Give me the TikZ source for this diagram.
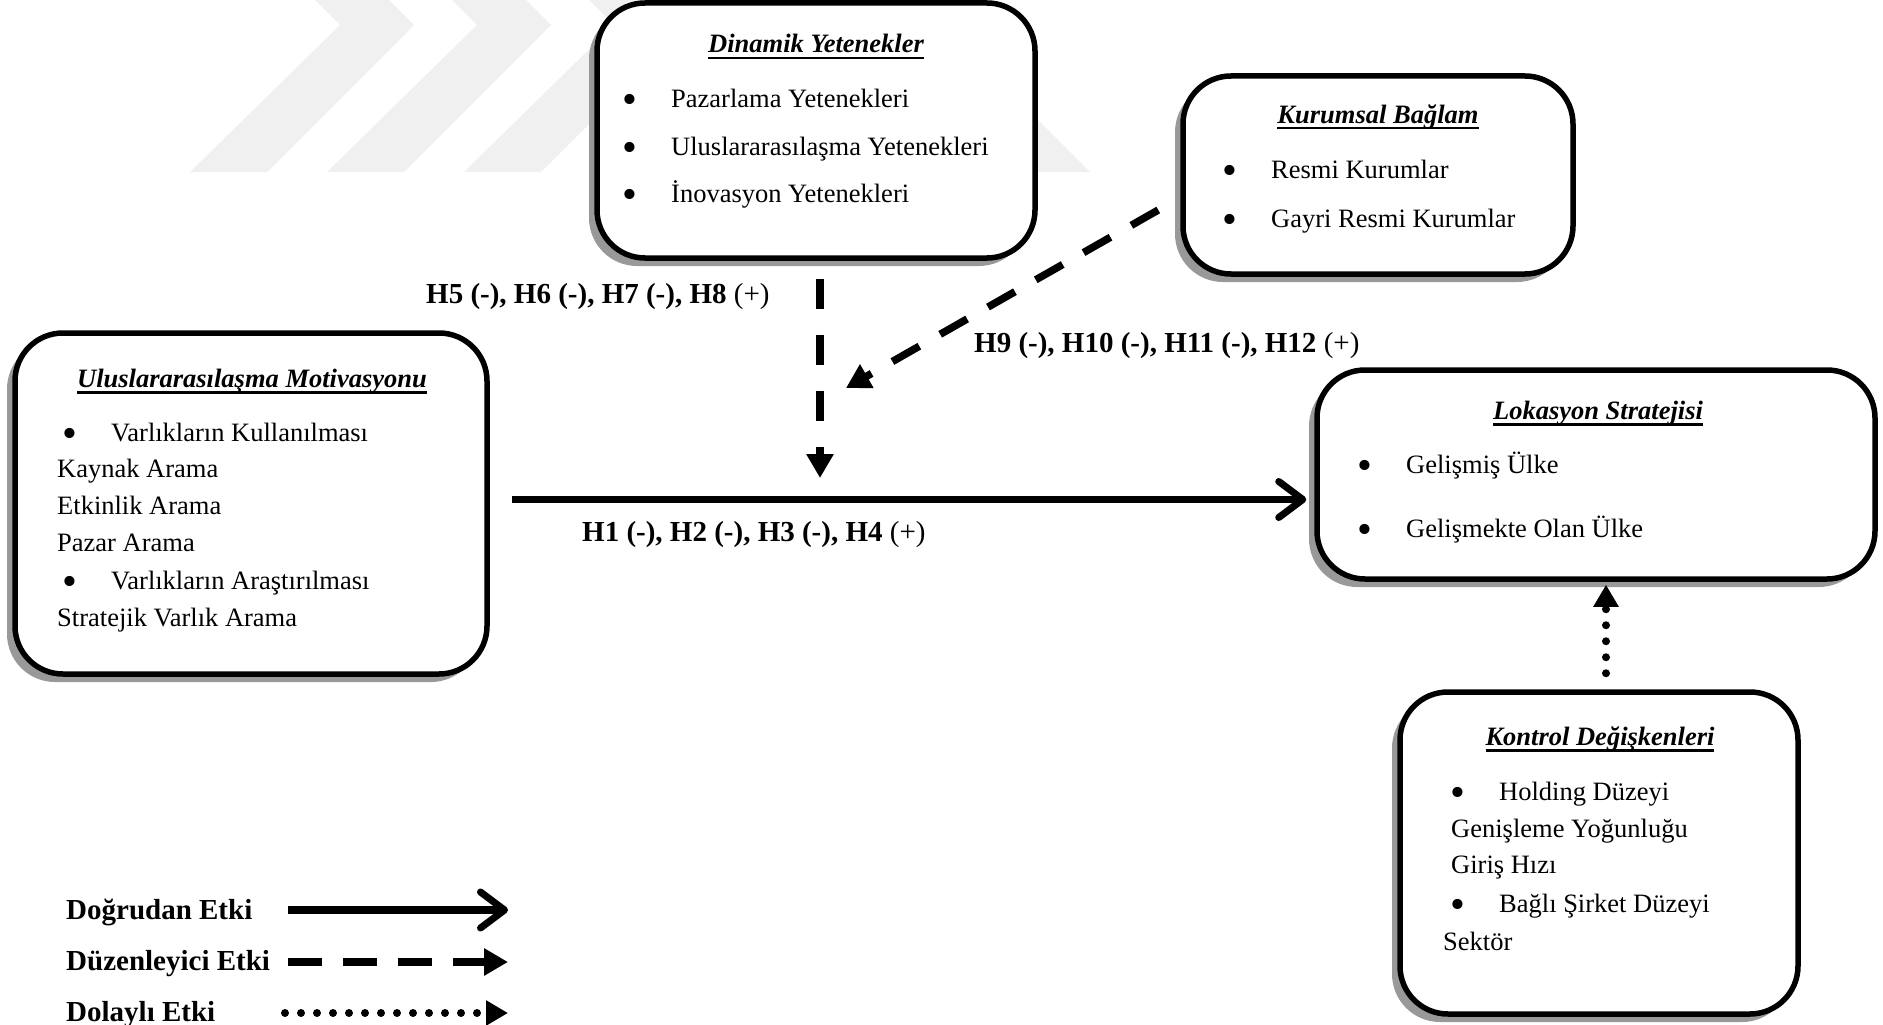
\documentclass[tikz,border=0pt]{standalone}
\usepackage{fontspec}
\setmainfont{Liberation Serif}
\usetikzlibrary{arrows.meta,positioning,calc,shadows}
\newcommand\ttlline[1]{\setbox0\hbox{#1}\rlap{\rule[-6.5pt]{\wd0}{2.5pt}}\box0}
\newcommand\itm[1]{\makebox[46pt][l]{\hspace*{-2.5pt}\raisebox{-6.5pt}{\scalebox{1.6}{\textbullet}}}#1}

\begin{document}
\begin{tikzpicture}[x=1pt,y=-1pt,
  box/.style={draw,line width=5.5pt,rounded corners=48pt,fill=white,
    drop shadow={shadow xshift=-8pt,shadow yshift=-8pt,fill=black!40,opacity=1}},
  ttl/.style={anchor=base,inner sep=0pt,font=\fontsize{26.5}{30}\selectfont\bfseries\itshape},
  txt/.style={anchor=base west,inner sep=0pt,font=\fontsize{26.5}{30}\selectfont},
  lbl/.style={anchor=base west,inner sep=0pt,font=\fontsize{29}{32}\selectfont\bfseries},
  direct/.style={line width=7.5pt,-{Straight Barb[length=24pt,width=36pt,line width=7pt,round]}},
  moder/.style={line width=7.5pt,dash pattern=on 30pt off 26pt,-{Triangle[length=24pt,width=26pt]}},
  indir/.style={line width=8pt,line cap=round,dash pattern=on 0pt off 16pt,-{Triangle[length=22pt,width=24pt]}}]
\useasboundingbox (0,0) rectangle (1883,1025);
% faint watermark
\begin{scope}
\clip (0,0) rectangle (1883,1025);
\foreach \k in {0,1,2}
  \fill[black!6] ({190+137*\k},172) -- ({267+137*\k},172) -- ({414+137*\k},25)
    -- ({354+137*\k},-35) -- ({280+137*\k},-35) -- ({340+137*\k},25) -- cycle;
\fill[black!6] (900,172) -- (1090,172) -- (960,42) -- cycle;
\end{scope}

% boxes
\node[box,minimum width=438pt,minimum height=255pt] (dyn) at (816,130.5) {};
\node[box,minimum width=390pt,minimum height=198pt] (kur) at (1378,175) {};
\node[box,minimum width=472pt,minimum height=341pt] (mot) at (251,503.5) {};
\node[box,minimum width=558pt,minimum height=209pt] (lok) at (1596,474.5) {};
\node[box,minimum width=398pt,minimum height=322pt] (kon) at (1599,853) {};

% dinamik yetenekler
\node[ttl] (dyn-t) at (816,53) {\ttlline{Dinamik Yetenekler}};
\node[txt] (dyn-1) at (625,107) {\itm{Pazarlama Yetenekleri}};
\node[txt] (dyn-2) at (625,155) {\itm{Uluslararasılaşma Yetenekleri}};
\node[txt] (dyn-3) at (625,202) {\itm{İnovasyon Yetenekleri}};

% kurumsal baglam
\node[ttl] (kur-t) at (1378,123) {\ttlline{Kurumsal Bağlam}};
\node[txt] (kur-1) at (1225,178) {\itm{Resmi Kurumlar}};
\node[txt] (kur-2) at (1225,227) {\itm{Gayri Resmi Kurumlar}};

% motivasyon
\node[ttl] (mot-t) at (252,387) {\ttlline{Uluslararasılaşma Motivasyonu}};
\node[txt] (mot-1) at (65,441) {\itm{Varlıkların Kullanılması}};
\node[txt] (mot-2) at (57,477) {Kaynak Arama};
\node[txt] (mot-3) at (57,514) {Etkinlik Arama};
\node[txt] (mot-4) at (57,551) {Pazar Arama};
\node[txt] (mot-5) at (65,589) {\itm{Varlıkların Araştırılması}};
\node[txt] (mot-6) at (57,626) {Stratejik Varlık Arama};

% lokasyon
\node[ttl] (lok-t) at (1598,419) {\ttlline{Lokasyon Stratejisi}};
\node[txt] (lok-1) at (1360,473) {\itm{Gelişmiş Ülke}};
\node[txt] (lok-2) at (1360,537) {\itm{Gelişmekte Olan Ülke}};

% kontrol
\node[ttl] (kon-t) at (1600,745) {\ttlline{Kontrol Değişkenleri}};
\node[txt] (kon-1) at (1453,800) {\itm{Holding Düzeyi}};
\node[txt] (kon-2) at (1451,837) {Genişleme Yoğunluğu};
\node[txt] (kon-3) at (1451,873) {Giriş Hızı};
\node[txt] (kon-4) at (1453,912) {\itm{Bağlı Şirket Düzeyi}};
\node[txt] (kon-5) at (1443,950) {Sektör};

% effects
\coordinate (mid) at (820,478);
\coordinate (mid2) at (846,388);
\draw[direct] ([xshift=22pt,yshift=4pt]mot.east) -- ([xshift=-8pt,yshift=4pt]mot.east -| lok.west);
\draw[moder] ([xshift=4pt,yshift=-18pt]dyn.south) -- (mid);
\draw[moder,dash pattern=on 31pt off 24pt] ([xshift=-22pt,yshift=-35pt]kur.west) -- (mid2);
\draw[indir] ([xshift=7pt,yshift=16pt]kon.north) -- ([xshift=10pt,yshift=-3pt]lok.south);

\node[lbl] (h58) at (426,303) {H5 (-), H6 (-), H7 (-), H8 \textmd{(+)}};
\node[lbl] (h912) at (974,352) {H9 (-), H10 (-), H11 (-), H12 \textmd{(+)}};
\node[lbl] (h14) at (582,541) {H1 (-), H2 (-), H3 (-), H4 \textmd{(+)}};

% legend
\node[lbl] (leg1) at (66,919) {Doğrudan Etki};
\node[lbl] (leg2) at (66,970) {Düzenleyici Etki};
\node[lbl] (leg3) at (66,1021) {Dolaylı Etki};
\coordinate (leg1a) at (288,910);
\coordinate (leg1b) at (508,910);
\coordinate (leg2a) at (288,962);
\coordinate (leg2b) at (508,962);
\coordinate (leg3a) at (285,1013);
\coordinate (leg3b) at (508,1013);
\draw[direct] (leg1a) -- (leg1b);
\draw[moder,dash pattern=on 34pt off 21pt] (leg2a) -- (leg2b);
\draw[indir] (leg3a) -- (leg3b);
\end{tikzpicture}
\end{document}
